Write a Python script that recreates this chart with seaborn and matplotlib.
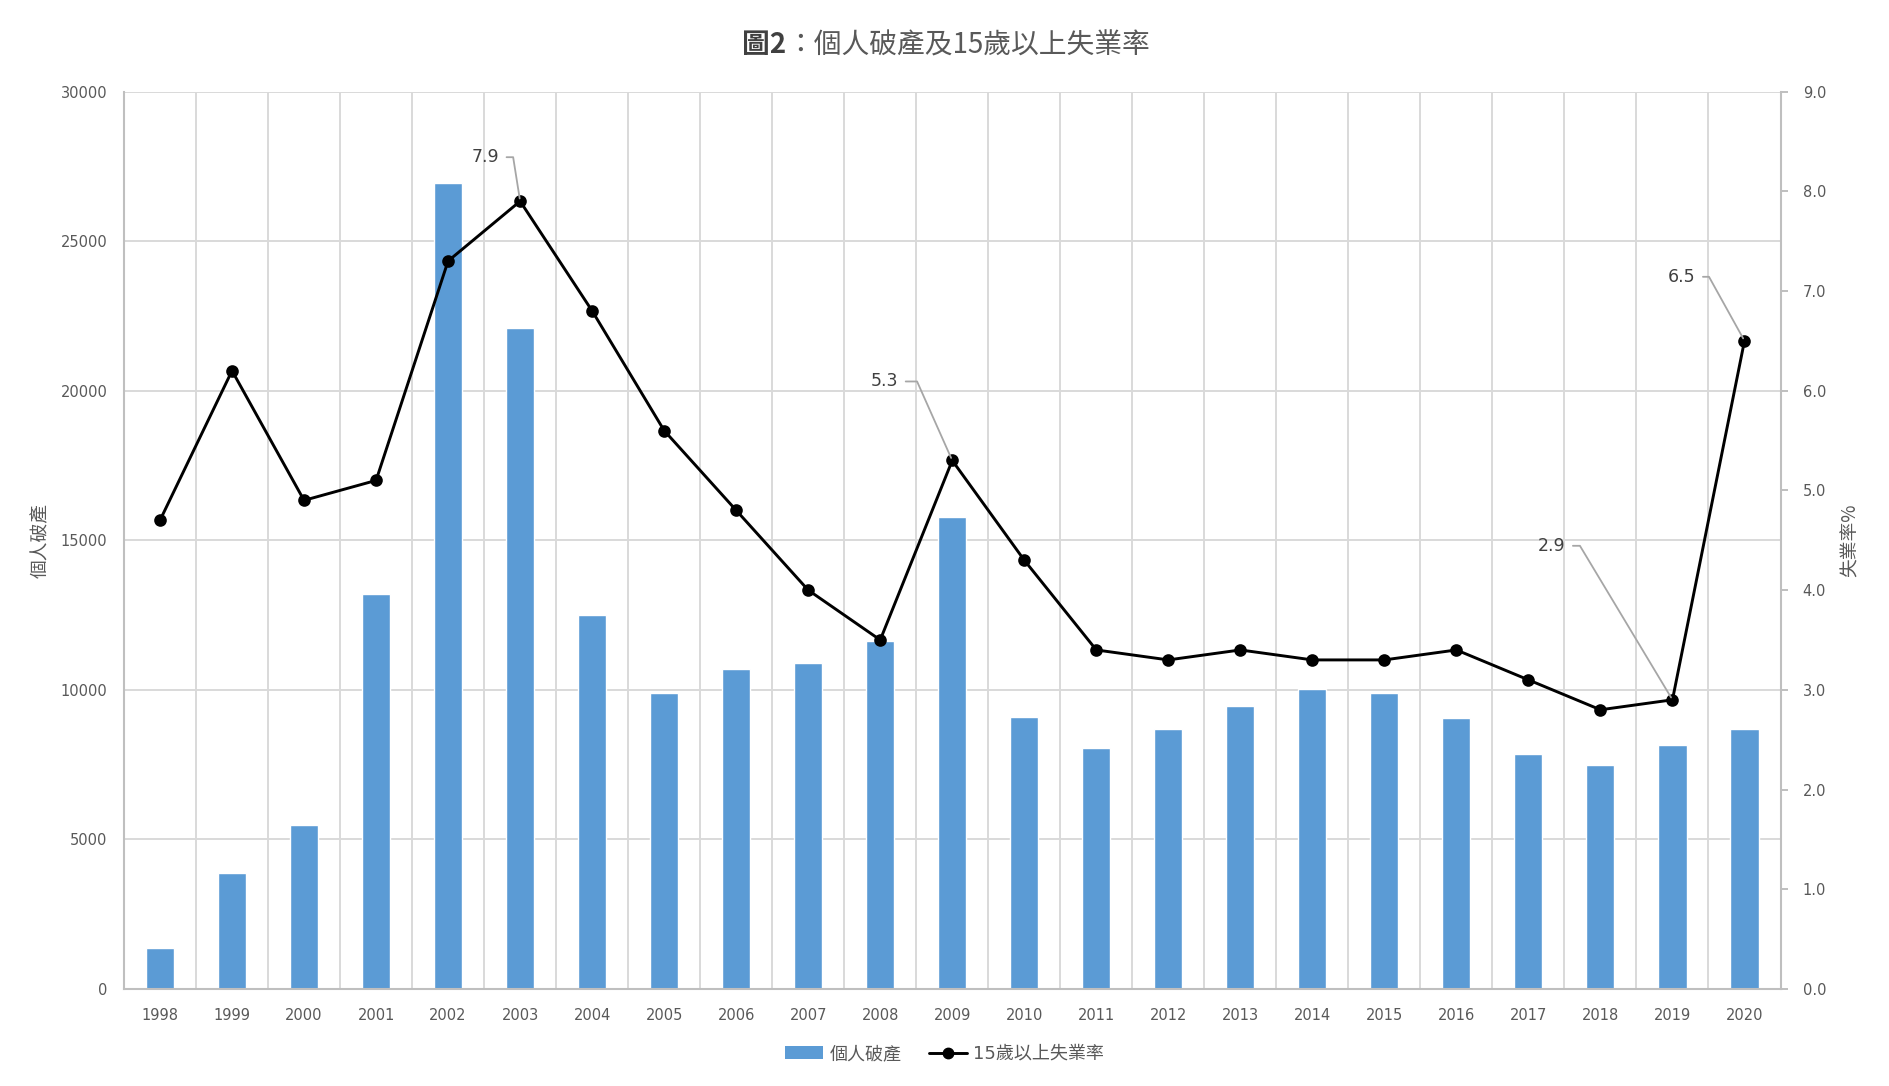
import matplotlib
matplotlib.use('Agg')
import matplotlib.pyplot as plt
import seaborn as sns
import pandas as pd
import numpy as np
from matplotlib.patches import Patch
from matplotlib.lines import Line2D

# ---- data ----
years = [str(y) for y in range(1998, 2021)]
bankruptcies = [1370, 3870, 5480, 13210, 26940, 22110, 12490, 9910, 10710, 10910,
                11640, 15790, 9100, 8060, 8700, 9460, 10030, 9910, 9060, 7850,
                7490, 8170, 8700]
unemployment = [4.7, 6.2, 4.9, 5.1, 7.3, 7.9, 6.8, 5.6, 4.8, 4.0, 3.5, 5.3, 4.3,
                3.4, 3.3, 3.4, 3.3, 3.3, 3.4, 3.1, 2.8, 2.9, 6.5]
left_ticks = [0, 5000, 10000, 15000, 20000, 25000, 30000]
right_ticks = [0, 1, 2, 3, 4, 5, 6, 7, 8, 9]
title_bold = '圖2'
title_rest = '：個人破產及15歲以上失業率'
bar_name = '個人破產'
line_name = '15歲以上失業率'
left_label = '個人破產'
right_label = '失業率%'
label_years = ['2003', '2009', '2019', '2020']
label_offsets = [(-21, 44), (-54, 79), (-107, 154), (-49, 64)]
label_angles = [99, 114, 121, 119]

sns.set_theme(style='white')
plt.rcParams['font.family'] = ['DejaVu Sans', 'Noto Sans CJK TC']

W, H = 1889, 1086
fig = plt.figure(figsize=(W / 100, H / 100), dpi=100)
L, R, T, B = 124, 1780.5, 91.5, 989
ax = fig.add_axes([L / W, 1 - B / H, (R - L) / W, (B - T) / H])

df = pd.DataFrame({'year': years, 'bankrupt': bankruptcies, 'rate': unemployment})

grey_txt = '#595959'
grid_c = '#d9d9d9'
spine_c = '#bfbfbf'

sns.barplot(data=df, x='year', y='bankrupt', color='#5B9BD5', saturation=1,
            width=0.39, errorbar=None, ax=ax, zorder=2)
ax2 = ax.twinx()
sns.pointplot(data=df, x='year', y='rate', color='black', markers='o',
              markersize=7.5, linewidth=2.1, ax=ax2, errorbar=None)

ax.set_ylim(0, 30000)
ax.set_yticks(left_ticks)
ax.set_yticklabels([str(v) for v in left_ticks])
ax2.set_ylim(0, 9)
ax2.set_yticks(right_ticks)
ax2.set_yticklabels([f'{v:.1f}' for v in right_ticks])
ax.set_xlim(-0.5, len(years) - 0.5)

ax.set_axisbelow(True)
ax.yaxis.grid(True, color=grid_c, lw=1.4)
ax.set_xticks(np.arange(-0.5, len(years), 1), minor=True)
ax.xaxis.grid(True, which='minor', color=grid_c, lw=1.4)
ax.xaxis.grid(False, which='major')
ax2.grid(False)

ax.tick_params(axis='x', which='both', length=0, pad=14, labelsize=10.5, labelcolor=grey_txt)
ax.tick_params(axis='y', length=0, pad=12, labelsize=10.5, labelcolor=grey_txt)
ax2.tick_params(axis='y', length=5, width=1.4, color=spine_c, pad=11, labelsize=10.5,
                labelcolor=grey_txt, direction='out')

for a in (ax, ax2):
    a.spines['top'].set_visible(False)
    for s in ('left', 'right', 'bottom'):
        a.spines[s].set_color(spine_c)
        a.spines[s].set_linewidth(1.5)
ax.spines['right'].set_visible(False)
ax2.spines['left'].set_visible(False)
ax2.spines['bottom'].set_visible(False)

ax.set_xlabel('')
ax2.set_xlabel('')
ax.set_ylabel(left_label, fontsize=13.5, color=grey_txt, family=['Noto Sans CJK TC'])
ax.yaxis.set_label_coords(-0.044, 0.5)
ax2.set_ylabel(right_label, fontsize=13.5, color=grey_txt, rotation=90,
               family=['Noto Sans CJK TC', 'DejaVu Sans'])
ax2.yaxis.set_label_coords(1.036, 0.5)

for yr, (dx, dy), ang in zip(label_years, label_offsets, label_angles):
    i = years.index(yr)
    v = unemployment[i]
    ax2.annotate(f'{v:.1f}', xy=(i, v), xytext=(dx, dy), textcoords='offset pixels',
                 ha='right', va='center', fontsize=12.5, color='#404040',
                 arrowprops=dict(arrowstyle='-', color='#a6a6a6', lw=1.3,
                                 shrinkA=3, shrinkB=2, relpos=(1, 0.5),
                                 connectionstyle=f'angle,angleA=0,angleB={ang},rad=0'))

# title: bold prefix + regular rest, centred as a whole
ty = 1 - 45 / H
t1 = fig.text(0, ty, title_bold, ha='left', va='center', fontsize=20,
              color='#404040', fontweight='bold', family=['Noto Sans CJK TC'])
t2 = fig.text(0, ty, title_rest, ha='left', va='center', fontsize=20,
              color=grey_txt, family=['Noto Sans CJK TC'])
fig.canvas.draw()
r = fig.canvas.get_renderer()
w1 = t1.get_window_extent(r).width
w2 = t2.get_window_extent(r).width
x0 = 946 - (w1 + w2) / 2
t1.set_x(x0 / W)
t2.set_x((x0 + w1) / W)

handles = [Patch(facecolor='#5B9BD5', edgecolor='none'),
           Line2D([0], [0], color='black', lw=2.1, marker='o', markersize=7.5)]
leg = fig.legend(handles, [bar_name, line_name], loc='center',
                 bbox_to_anchor=(0.5, 1 - 1054 / H), ncol=2, frameon=False,
                 fontsize=13, handlelength=2.1, handletextpad=0.35, columnspacing=1.5)
for t in leg.get_texts():
    t.set_color(grey_txt)

fig.savefig('out.png', dpi=100)
